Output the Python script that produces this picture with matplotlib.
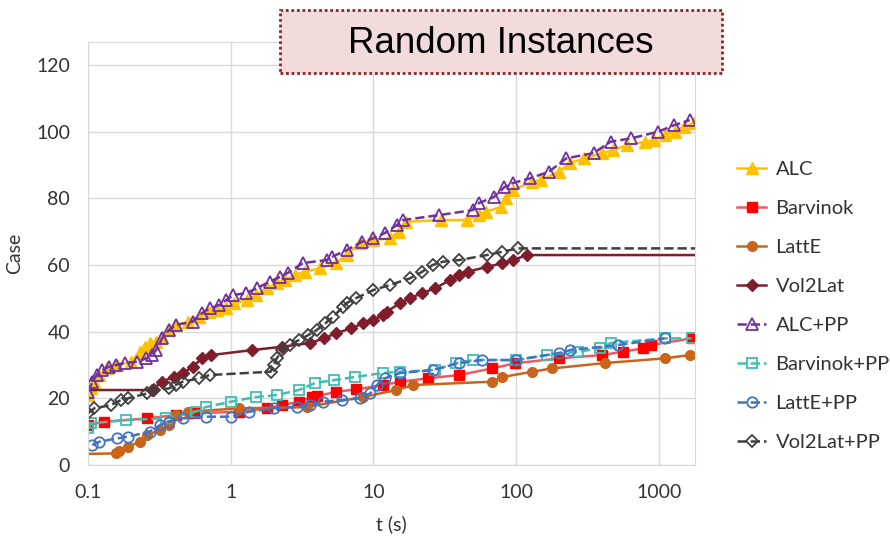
import matplotlib.pyplot as plt
from matplotlib.patches import Rectangle

# time (s) / solved cases
alcT = [0.1, 0.105, 0.11, 0.12, 0.135, 0.16, 0.2, 0.23, 0.25, 0.27, 0.3, 0.33, 0.37, 0.41, 0.5, 0.6, 0.7, 0.8, 0.93,
        1.05, 1.3, 1.5, 1.8, 2.1, 2.4, 2.8, 3.3, 4.2, 5.5, 6.5, 8, 10, 13, 15, 17, 30, 45, 55, 62, 78, 85, 95,
        130, 150, 200, 240, 300, 400, 480, 600, 800, 920, 1100, 1300, 1500, 1770]
alcY = [21, 23, 25, 27, 29, 30, 31, 34, 35.5, 36.5, 37, 38.5, 40.5, 42, 43, 44.5, 46, 46.5, 47,
        48.5, 49.5, 51, 53, 54.5, 55.5, 57, 58, 59, 60.6, 63, 66.6, 67.5, 68, 70, 73, 73.5, 73.5, 75, 76, 77.4, 80, 82.5,
        85, 85.5, 88, 90.6, 92, 93.5, 94.5, 96, 97, 97.5, 99, 100, 101.5, 102.6]

barvT = [0.1, 0.13, 0.26, 0.41, 0.55, 1.15, 1.8, 2.3, 3, 3.7, 4, 5.5, 7.6, 11.6, 15.4, 24, 40, 68, 98,
         200, 400, 560, 780, 880, 1700]
barvY = [12, 13, 14, 15, 15.5, 16, 17, 18, 19, 20.4, 20.6, 22, 22.7, 24, 25, 26, 27, 29, 30.5,
         32, 33, 34, 35, 36, 38]

latteT = [0.09, 0.157, 0.165, 0.19, 0.23, 0.26, 0.32, 0.37, 0.41, 0.5, 1.15, 3.4, 8.4, 14.5, 19, 68, 80,
          130, 180, 420, 1100, 1650]
latteY = [3.3, 3.5, 4.2, 5.5, 7, 9, 10.5, 12, 15, 16, 17, 17.4, 20.4, 22.5, 24, 25, 26.4,
          28, 29, 30.6, 32, 33]

volT = [0.09, 0.28, 0.33, 0.4, 0.46, 0.54, 0.63, 0.73, 1.42, 2.3, 3.6, 4.5, 5.5, 7, 8.4, 10, 11.6, 12.4,
        15.4, 18, 22, 27, 34.5, 40, 46, 63, 80, 95, 120, 2000]
volY = [22.5, 22.5, 25, 26.5, 27.5, 29.5, 32, 33, 34.5, 35.5, 36.6, 38, 39.6, 41, 42.5, 43.5, 45, 46,
        48.6, 50, 51.6, 53, 55.5, 57, 58, 59.5, 60.5, 61.5, 63, 63]

alcPpT = [0.1, 0.107, 0.115, 0.125, 0.14, 0.157, 0.18, 0.22, 0.255, 0.28, 0.3, 0.33, 0.37, 0.41, 0.54, 0.63,
          0.71, 0.83, 0.93, 1.04, 1.28, 1.52, 1.87, 2.2, 2.5, 3.2, 4.7, 5.1, 6.5, 8.3, 10, 12, 14.6, 16.2,
          29, 50, 55, 70, 83, 95, 125, 170, 225, 350, 460, 640, 990, 1290, 1650]
alcPpY = [22, 25, 27, 28.5, 29.5, 30, 30.6, 31, 32, 33, 34.5, 38, 40.5, 42, 43, 45.6,
          47, 48, 49.5, 51, 51.6, 53, 55, 56.4, 57.6, 60.6, 61.5, 62.4, 64.5, 67, 68, 69.6, 72, 73.5,
          75, 76.5, 78.6, 80.4, 83.4, 84.6, 86, 88, 92, 93.6, 97, 98, 100, 102, 103.5]

barvPpT = [0.1, 0.105, 0.185, 0.35, 0.57, 0.67, 1.0, 1.5, 2.1, 3.0, 3.9, 5.3, 7.4, 11.6, 15.4, 27, 38, 50,
           100, 165, 270, 390, 460, 1100, 1700]
barvPpY = [11, 12.5, 13.5, 14, 16, 17.4, 19, 20.4, 21, 22.5, 24.6, 25.5, 26.4, 27.6, 28, 28.5, 30.6, 31.5,
           31.5, 33, 34, 35, 36.6, 38, 38]

lattePpT = [0.107, 0.12, 0.16, 0.19, 0.27, 0.32, 0.37, 0.46, 0.67, 1.0, 1.35, 2, 2.9, 3.6, 4.4, 6, 8, 9.5,
            10.6, 12, 15.4, 26, 40, 58, 100, 200, 240, 520, 1100]
lattePpY = [6, 7, 8, 8.5, 10, 12, 13, 14, 14.5, 14.5, 16, 17, 17.4, 18, 19, 19.5, 20, 21.5,
            24, 26, 27.6, 28.5, 30.6, 31.5, 31.5, 33.6, 34.5, 36, 38]

volPpT = [0.1, 0.11, 0.145, 0.17, 0.19, 0.26, 0.29, 0.37, 0.41, 0.46, 0.6, 0.71, 1.9, 2.0, 2.1, 2.3, 2.6,
          3.0, 3.5, 4.0, 4.6, 5.2, 6.1, 6.5, 7.5, 10, 13, 18, 22, 26, 30.7, 40, 62.6, 80, 103, 2000]
volPpY = [15.5, 17, 18, 19.5, 20, 21.5, 22.5, 23, 24, 25, 26, 27, 28, 30, 32, 34.5, 36,
          37.5, 39, 40.5, 42.5, 44.4, 47.4, 48.6, 50, 52.5, 54, 56, 58, 60, 61, 61.5, 63, 64, 65, 65]

xTicks = [0.1, 1, 10, 100, 1000]
xTickLabels = ["0.1", "1", "10", "100", "1000"]
yTicks = [0, 20, 40, 60, 80, 100, 120]

plt.rcParams['font.family'] = ['Lato', 'DejaVu Sans']

fig = plt.figure(figsize = (8.9, 5.42), dpi = 100)
ax = fig.add_axes([0.099, 0.142, 0.682, 0.781])

ms = 8
lw = 1.8
ax.plot(alcT, alcY, color = '#FFC000', marker = '^', ms = ms, lw = lw, label = "ALC")
ax.plot(barvT, barvY, color = '#EE5A64', marker = 's', ms = ms - 1.5, mfc = '#FF0000', mec = '#FF0000', lw = lw, label = "Barvinok")
ax.plot(latteT, latteY, color = '#C8651B', marker = 'o', ms = ms - 1, lw = lw, label = "LattE")
ax.plot(volT, volY, color = '#7F1D2D', marker = 'D', ms = ms - 1.5, lw = lw, label = "Vol2Lat")
ax.plot(alcPpT, alcPpY, color = '#7030A0', ls = '--', marker = '^', ms = ms, mfc = 'none', mew = 1.3, lw = lw, label = "ALC+PP")
ax.plot(barvPpT, barvPpY, color = '#3DBFB3', ls = '--', marker = 's', ms = ms - 1.5, mfc = 'none', mew = 1.3, lw = lw, label = "Barvinok+PP")
ax.plot(lattePpT, lattePpY, color = '#4472C4', ls = '--', marker = 'o', ms = ms - 0.5, mfc = 'none', mew = 1.3, lw = lw, label = "LattE+PP")
ax.plot(volPpT, volPpY, color = '#404040', ls = '--', marker = 'D', ms = ms - 2, mfc = 'none', mew = 1.3, lw = lw, label = "Vol2Lat+PP")
# solid = plain solver, dashed = with preprocessing

ax.set_xscale('log')
ax.set_xlim(0.1, 1800)
ax.set_ylim(0, 127)
ax.set_xticks(xTicks)
ax.set_xticklabels(xTickLabels)
ax.minorticks_off()
ax.set_yticks(yTicks)
ax.tick_params(length = 0, labelsize = 14, labelcolor = '#333333')
ax.tick_params(axis = 'x', pad = 14)
ax.tick_params(axis = 'y', pad = 13)

ax.grid(True, color = '#D9D9D9', lw = 1)
ax.set_axisbelow(True)
for s in ax.spines.values():
    s.set_color('#D9D9D9')
# light excel-style frame and grid

ax.set_xlabel("t (s)", fontsize = 14, color = '#333333', labelpad = 10)
ax.set_ylabel("Case", fontsize = 14, color = '#333333', labelpad = 9)

ax.legend(loc = 'center left', bbox_to_anchor = (0.808, 0.436), bbox_transform = fig.transFigure,
          frameon = False, fontsize = 14.5, labelspacing = 1.09, handlelength = 1.45, handletextpad = 0.45,
          labelcolor = '#333333')

box = Rectangle((0.3146, 0.8653), 0.4966, 0.1162, transform = fig.transFigure, facecolor = '#F2DCDB',
                edgecolor = '#8B2525', lw = 2, ls = (0, (1, 1)), zorder = 5)
fig.patches.append(box)
fig.text(0.563, 0.919, "Random Instances", ha = 'center', va = 'center', fontsize = 26.5,
         family = 'Liberation Sans', zorder = 6)
# title box sits over the top of the plot frame

fig.savefig("out.png")
